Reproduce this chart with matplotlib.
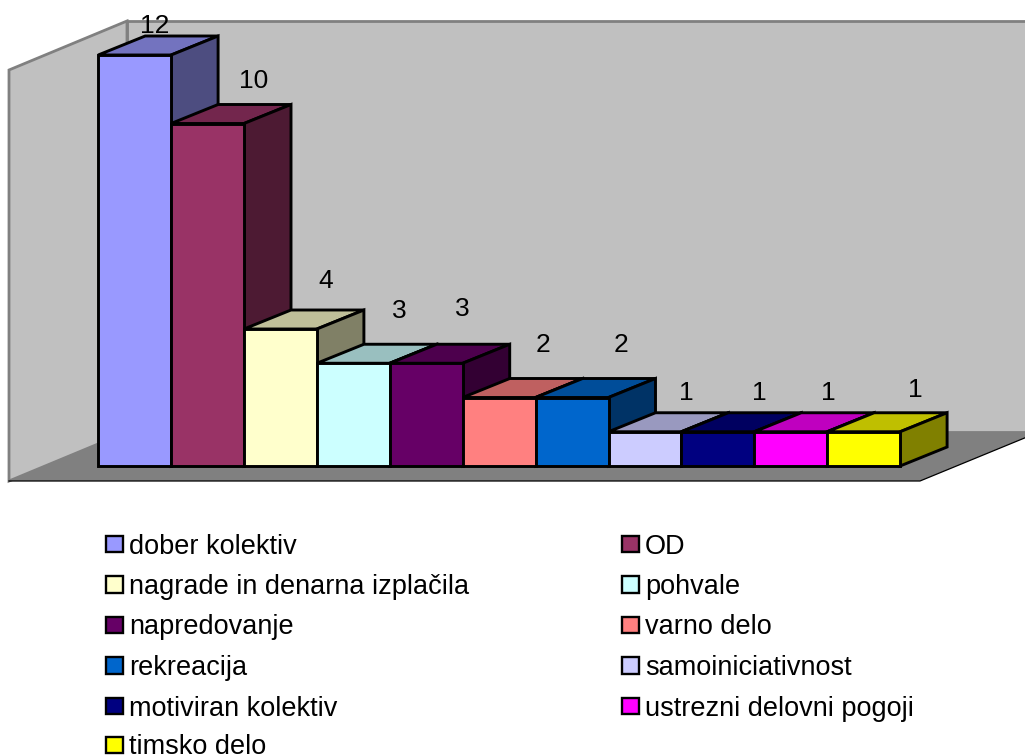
import matplotlib
matplotlib.use("Agg")
import matplotlib.pyplot as plt
from matplotlib.colors import to_rgb
from matplotlib.patches import Polygon, Rectangle

plt.rcParams['font.family'] = ['Liberation Sans', 'DejaVu Sans']

# Survey answers and their counts
categories = ['dober kolektiv', 'OD', 'nagrade in denarna izplačila', 'pohvale',
              'napredovanje', 'varno delo', 'rekreacija', 'samoiniciativnost',
              'motiviran kolektiv', 'ustrezni delovni pogoji', 'timsko delo']
values = [12, 10, 4, 3, 3, 2, 2, 1, 1, 1, 1]
colors = ['#9999FF', '#993366', '#FFFFCC', '#CCFFFF', '#660066', '#FF8080',
          '#0066CC', '#CCCCFF', '#000080', '#FF00FF', '#FFFF00']

# Value label offsets from the front-right top corner of each bar, in pixels
label_dx = [-16, 10, 9, 9, 0, 7, 12, 5, 5, 1, 15]
label_dy = [29, 42, 48, 52, 54, 53, 53, 39, 39, 39, 42]

W, H = 1025, 756
PX_X = 72.9    # pixels per bar slot
PX_Y = 34.25   # pixels per count
X0, Y0 = 98.2, 466
DEPTH_X, DEPTH_Y = 47 / PX_X, 19 / PX_Y


def px(x, y):
    """Convert figure pixel positions to data coordinates."""
    return (x - X0) / PX_X, (Y0 - y) / PX_Y


fig = plt.figure(figsize=(W / 100, H / 100), dpi=100)
ax = fig.add_axes([0, 0, 1, 1])
ax.set_xlim(px(0, 0)[0], px(W, 0)[0])
ax.set_ylim(px(0, H)[1], px(0, 0)[1])
ax.axis('off')

# Chart box: back wall, side wall and floor
grey = '#C0C0C0'
edge = '#808080'
ax.add_patch(Polygon([px(127, 21), px(1027, 21), px(1027, 432), px(127, 432)],
                     closed=True, fc=grey, ec=edge, lw=2.0, zorder=1))
ax.add_patch(Polygon([px(9, 70), px(127, 21), px(127, 432), px(9, 481)],
                     closed=True, fc=grey, ec=edge, lw=2.0, zorder=1))
ax.add_patch(Polygon([px(9, 481), px(127, 432), px(1027, 432), px(1027, 437), px(920, 481)],
                     closed=True, fc=edge, ec='none', zorder=2))
ax.plot(*zip(px(9, 481), px(920, 481), px(1027, 437)), color='black', lw=0.9, zorder=3)


def shade(color, factor):
    return tuple(c * factor for c in to_rgb(color))


# Bars are stacked left to right so each one covers the side of its neighbour
style = dict(ec='black', lw=2.1, joinstyle='miter')
for i, (v, c) in enumerate(zip(values, colors)):
    z = 10 + i
    ax.bar(i, v, width=1, align='edge', color=c, zorder=z + 0.2,
           edgecolor='black', linewidth=2.1)
    ax.add_patch(Polygon([(i, v), (i + 1, v), (i + 1 + DEPTH_X, v + DEPTH_Y), (i + DEPTH_X, v + DEPTH_Y)],
                         closed=True, fc=shade(c, 0.75), zorder=z, **style))
    ax.add_patch(Polygon([(i + 1, 0), (i + 1 + DEPTH_X, DEPTH_Y), (i + 1 + DEPTH_X, v + DEPTH_Y), (i + 1, v)],
                         closed=True, fc=shade(c, 0.5), zorder=z, **style))
    ax.text(i + 1 + label_dx[i] / PX_X, v + label_dy[i] / PX_Y, str(v),
            fontsize=19, ha='center', va='center', color='black', zorder=40)

# Two-column key, filled row by row
col_x = [106, 622]
row_y = [544, 584.5, 625, 665.5, 706, 745]
for i, (name, c) in enumerate(zip(categories, colors)):
    cx, cy = col_x[i % 2], row_y[i // 2]
    x0, y0 = px(cx, cy + 8)
    ax.add_patch(Rectangle((x0, y0), 16.5 / PX_X, 16.5 / PX_Y, fc=c, ec='black', lw=1.7, zorder=40))
    ax.text(*px(cx + 23, cy + 9.5), name, fontsize=19.55, ha='left', va='baseline',
            color='black', zorder=40)

fig.savefig('out.png', dpi=100)
